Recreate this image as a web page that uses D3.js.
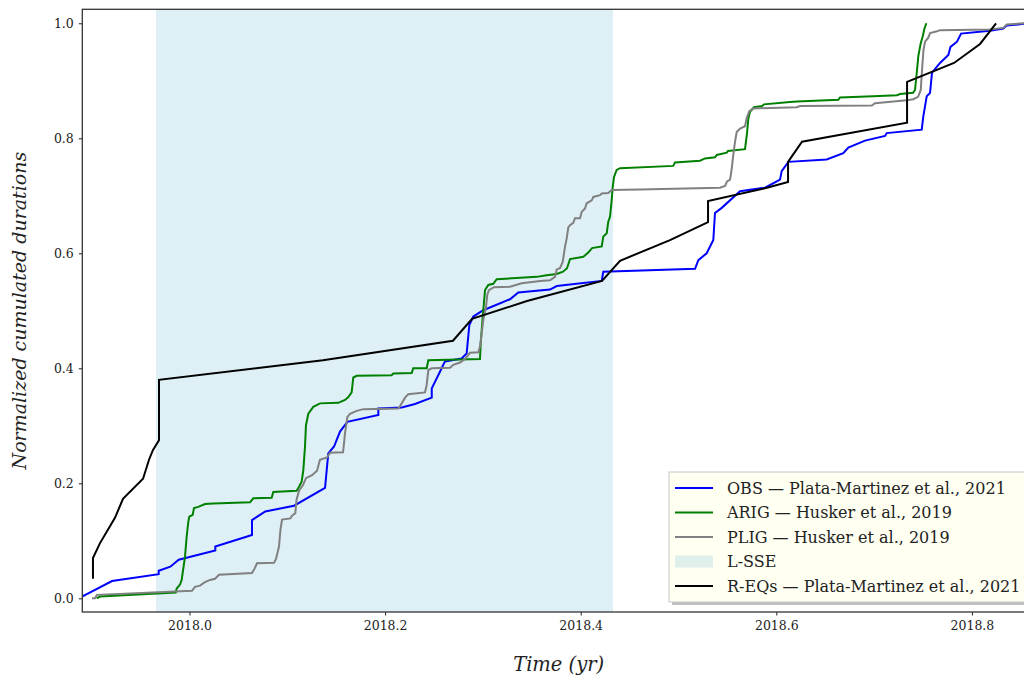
<!DOCTYPE html>
<html>
<head>
<meta charset="utf-8">
<script src="https://cdn.jsdelivr.net/npm/d3@7"></script>
<style>
  html, body { margin: 0; padding: 0; background: #ffffff; }
  svg { display: block; }
  .tick text { font-family: "DejaVu Serif", serif; font-size: 12.5px; fill: #222; }
</style>
</head>
<body>
<svg id="chart" width="1024" height="682"></svg>
<script>
// Cumulated tremor / slip durations, normalized to 1, against decimal year.
const obs = [
  [2017.8880,0.001],[2017.9208,0.030],[2017.9685,0.042],[2017.9685,0.048],[2017.9804,0.055],
  [2017.9890,0.067],[2018.0264,0.083],[2018.0264,0.090],[2018.0639,0.110],[2018.0639,0.136],
  [2018.0775,0.151],[2018.1069,0.161],[2018.1386,0.192],[2018.1419,0.252],[2018.1478,0.264],
  [2018.1539,0.290],[2018.1614,0.307],[2018.1931,0.319],[2018.1931,0.330],[2018.2170,0.332],
  [2018.2306,0.338],[2018.2477,0.349],[2018.2477,0.365],[2018.2561,0.394],[2018.2612,0.412],
  [2018.2783,0.417],[2018.2834,0.426],[2018.2861,0.475],[2018.2902,0.490],[2018.3004,0.501],
  [2018.3277,0.520],[2018.3362,0.532],[2018.3686,0.537],[2018.3755,0.543],[2018.4215,0.552],
  [2018.4231,0.568],[2018.5169,0.573],[2018.5203,0.588],[2018.5288,0.600],[2018.5356,0.623],
  [2018.5373,0.670],[2018.5442,0.679],[2018.5629,0.708],[2018.5885,0.714],[2018.6038,0.728],
  [2018.6055,0.743],[2018.6123,0.759],[2018.6515,0.763],[2018.6685,0.774],[2018.6736,0.784],
  [2018.6907,0.796],[2018.7112,0.804],[2018.7129,0.809],[2018.7487,0.815],[2018.7503,0.838],
  [2018.7538,0.873],[2018.7572,0.879],[2018.7592,0.914],[2018.7674,0.931],[2018.7759,0.945],
  [2018.7781,0.959],[2018.7848,0.968],[2018.7889,0.982],[2018.8185,0.987],[2018.8321,0.991],
  [2018.8356,0.996],[2018.8533,0.999],[2018.8697,1.000]
];

const arig = [
  [2017.9051,0.000],[2017.9085,0.003],[2017.9859,0.010],[2017.9869,0.017],[2017.9903,0.024],
  [2017.9920,0.032],[2017.9930,0.044],[2017.9954,0.072],[2017.9971,0.107],[2017.9988,0.133],
  [2017.9998,0.142],[2018.0033,0.145],[2018.0046,0.157],[2018.0090,0.159],[2018.0158,0.164],
  [2018.0243,0.165],[2018.0619,0.167],[2018.0652,0.174],[2018.0840,0.175],[2018.0857,0.185],
  [2018.1096,0.187],[2018.1120,0.194],[2018.1147,0.203],[2018.1164,0.223],[2018.1181,0.264],
  [2018.1191,0.301],[2018.1215,0.321],[2018.1266,0.333],[2018.1334,0.339],[2018.1521,0.340],
  [2018.1590,0.345],[2018.1624,0.350],[2018.1658,0.358],[2018.1675,0.384],[2018.1710,0.387],
  [2018.2067,0.388],[2018.2084,0.391],[2018.2272,0.392],[2018.2288,0.400],[2018.2425,0.400],
  [2018.2442,0.414],[2018.2970,0.416],[2018.2978,0.444],[2018.2998,0.490],[2018.3022,0.536],
  [2018.3055,0.545],[2018.3106,0.547],[2018.3141,0.555],[2018.3550,0.559],[2018.3652,0.562],
  [2018.3755,0.564],[2018.3819,0.568],[2018.3860,0.574],[2018.3891,0.590],[2018.4027,0.594],
  [2018.4075,0.601],[2018.4116,0.609],[2018.4215,0.612],[2018.4231,0.629],[2018.4266,0.635],
  [2018.4282,0.655],[2018.4300,0.664],[2018.4317,0.693],[2018.4327,0.715],[2018.4341,0.733],
  [2018.4368,0.745],[2018.4402,0.748],[2018.4947,0.752],[2018.4964,0.758],[2018.5220,0.761],
  [2018.5271,0.765],[2018.5373,0.767],[2018.5391,0.771],[2018.5493,0.775],[2018.5506,0.778],
  [2018.5680,0.781],[2018.5700,0.808],[2018.5714,0.834],[2018.5731,0.846],[2018.5772,0.854],
  [2018.5854,0.856],[2018.5874,0.859],[2018.6140,0.863],[2018.6212,0.864],[2018.6634,0.867],
  [2018.6651,0.871],[2018.6989,0.873],[2018.7234,0.875],[2018.7265,0.877],[2018.7398,0.879],
  [2018.7418,0.884],[2018.7436,0.914],[2018.7452,0.943],[2018.7475,0.964],[2018.7495,0.976],
  [2018.7515,0.991],[2018.7534,1.000]
];

const plig = [
  [2017.9003,0.000],[2017.9034,0.000],[2017.9054,0.006],[2018.0026,0.013],[2018.0056,0.020],
  [2018.0107,0.022],[2018.0158,0.028],[2018.0210,0.032],[2018.0261,0.034],[2018.0302,0.041],
  [2018.0639,0.044],[2018.0667,0.052],[2018.0690,0.061],[2018.0864,0.062],[2018.0884,0.068],
  [2018.0915,0.090],[2018.0930,0.119],[2018.0946,0.137],[2018.1031,0.139],[2018.1051,0.144],
  [2018.1082,0.148],[2018.1094,0.171],[2018.1120,0.187],[2018.1161,0.197],[2018.1191,0.209],
  [2018.1253,0.214],[2018.1304,0.222],[2018.1334,0.241],[2018.1406,0.245],[2018.1437,0.253],
  [2018.1570,0.254],[2018.1580,0.270],[2018.1590,0.287],[2018.1614,0.315],[2018.1641,0.321],
  [2018.1710,0.326],[2018.1777,0.329],[2018.2135,0.330],[2018.2152,0.334],[2018.2204,0.349],
  [2018.2237,0.355],[2018.2408,0.358],[2018.2425,0.371],[2018.2442,0.397],[2018.2477,0.400],
  [2018.2664,0.401],[2018.2697,0.406],[2018.2766,0.410],[2018.2817,0.416],[2018.2868,0.427],
  [2018.2953,0.428],[2018.2970,0.438],[2018.2988,0.461],[2018.3004,0.484],[2018.3032,0.507],
  [2018.3045,0.528],[2018.3062,0.536],[2018.3113,0.541],[2018.3277,0.542],[2018.3397,0.548],
  [2018.3584,0.552],[2018.3686,0.553],[2018.3737,0.559],[2018.3755,0.572],[2018.3788,0.574],
  [2018.3816,0.585],[2018.3840,0.612],[2018.3857,0.626],[2018.3873,0.645],[2018.3891,0.649],
  [2018.3924,0.653],[2018.3942,0.661],[2018.3993,0.661],[2018.4010,0.672],[2018.4044,0.678],
  [2018.4061,0.687],[2018.4113,0.692],[2018.4129,0.698],[2018.4197,0.701],[2018.4215,0.704],
  [2018.4282,0.705],[2018.4317,0.710],[2018.4606,0.711],[2018.5424,0.714],[2018.5476,0.717],
  [2018.5496,0.725],[2018.5527,0.728],[2018.5544,0.747],[2018.5560,0.771],[2018.5578,0.794],
  [2018.5595,0.811],[2018.5629,0.817],[2018.5680,0.821],[2018.5697,0.835],[2018.5724,0.847],
  [2018.5765,0.852],[2018.6209,0.854],[2018.6242,0.856],[2018.6976,0.857],[2018.7009,0.861],
  [2018.7333,0.866],[2018.7401,0.868],[2018.7449,0.872],[2018.7477,0.884],[2018.7490,0.919],
  [2018.7505,0.954],[2018.7521,0.968],[2018.7554,0.975],[2018.7572,0.983],[2018.7643,0.986],
  [2018.7674,0.988],[2018.8185,0.989],[2018.8321,0.992],[2018.8356,0.998],[2018.8533,1.000]
];

const reqs = [
  [2017.9013,0.034],[2017.9013,0.070],[2017.9085,0.096],[2017.9238,0.140],[2017.9320,0.173],
  [2017.9525,0.208],[2017.9586,0.241],[2017.9627,0.258],[2017.9688,0.275],[2017.9688,0.380],
  [2018.1365,0.414],[2018.2694,0.448],[2018.2889,0.486],[2018.3451,0.517],[2018.4218,0.552],
  [2018.4402,0.587],[2018.4913,0.623],[2018.5302,0.654],[2018.5302,0.691],[2018.5905,0.714],
  [2018.6120,0.724],[2018.6120,0.759],[2018.6263,0.794],[2018.7337,0.827],[2018.7337,0.898],
  [2018.7817,0.931],[2018.8083,0.964],[2018.8247,1.000]
];

// Long-term slow slip event window
const sseWindow = [2017.9657, 2018.4330];

const xTicks = [2018.0, 2018.2, 2018.4, 2018.6, 2018.8];
const yTicks = [0.0, 0.2, 0.4, 0.6, 0.8, 1.0];

const seriesNames = [
  "OBS \u2014 Plata-Martinez et al., 2021",
  "ARIG \u2014 Husker et al., 2019",
  "PLIG \u2014 Husker et al., 2019",
  "L-SSE",
  "R-EQs \u2014 Plata-Martinez et al., 2021"
];

const svg = d3.select("#chart");
const plot = { left: 82.3, right: 1035, top: 9.3, bottom: 612 };

const x = d3.scaleLinear().domain([2017.8904, 2018.8645]).range([plot.left, plot.right]);
const y = d3.scaleLinear().domain([-0.0238, 1.0243]).range([plot.bottom, plot.top]);

svg.append("defs").append("clipPath").attr("id", "plot-clip")
  .append("rect")
  .attr("x", plot.left).attr("y", plot.top)
  .attr("width", plot.right - plot.left).attr("height", plot.bottom - plot.top);

const body = svg.append("g").attr("clip-path", "url(#plot-clip)");

const sseFill = "rgb(222,239,245)";
body.append("rect")
  .attr("x", x(sseWindow[0])).attr("y", plot.top)
  .attr("width", x(sseWindow[1]) - x(sseWindow[0]))
  .attr("height", plot.bottom - plot.top)
  .attr("fill", sseFill);

const line = d3.line().x(d => x(d[0])).y(d => y(d[1]));

const series = [
  { data: obs,  color: "#0000ff" },
  { data: arig, color: "#008000" },
  { data: plig, color: "#808080" },
  { data: reqs, color: "#000000" }
];

series.forEach(s => {
  body.append("path")
    .datum(s.data)
    .attr("d", line)
    .attr("fill", "none")
    .attr("stroke", s.color)
    .attr("stroke-width", 2)
    .attr("stroke-linejoin", "miter");
});

// Axes
const xAxis = svg.append("g")
  .attr("transform", `translate(0,${plot.bottom})`)
  .call(d3.axisBottom(x).tickValues(xTicks).tickFormat(d3.format(".1f")).tickSize(3.5).tickPadding(6));
const yAxis = svg.append("g")
  .attr("transform", `translate(${plot.left},0)`)
  .call(d3.axisLeft(y).tickValues(yTicks).tickFormat(d3.format(".1f")).tickSize(3.5).tickPadding(5));
[xAxis, yAxis].forEach(a => {
  a.select(".domain").remove();
  a.selectAll(".tick line").attr("stroke", "#222").attr("stroke-width", 1);
});

// Frame
const spine = { stroke: "#333", width: 1.3 };
svg.append("rect")
  .attr("x", plot.left).attr("y", plot.top)
  .attr("width", plot.right - plot.left).attr("height", plot.bottom - plot.top)
  .attr("fill", "none").attr("stroke", spine.stroke).attr("stroke-width", spine.width);

// Axis titles
svg.append("text")
  .attr("x", (plot.left + plot.right) / 2).attr("y", 671)
  .attr("text-anchor", "middle")
  .style("font-family", "'DejaVu Serif', serif").style("font-style", "italic")
  .style("font-size", "19.5px").attr("fill", "#222")
  .text("Time (yr)");

svg.append("text")
  .attr("transform", `translate(26,${(plot.top + plot.bottom) / 2}) rotate(-90)`)
  .attr("text-anchor", "middle")
  .style("font-family", "'DejaVu Serif', serif").style("font-style", "italic")
  .style("font-size", "19px").attr("fill", "#222")
  .text("Normalized cumulated durations");

// Legend
const lg = { x: 669, y: 472, w: 362, h: 130, row0: 488, step: 24.5 };
const legend = svg.append("g");
legend.append("rect")
  .attr("x", lg.x + 3).attr("y", lg.y + 3).attr("width", lg.w).attr("height", lg.h)
  .attr("fill", "#8a8a8a").attr("opacity", 0.55);
legend.append("rect")
  .attr("x", lg.x).attr("y", lg.y).attr("width", lg.w).attr("height", lg.h)
  .attr("fill", "#fffff2").attr("stroke", "#c8c8c8").attr("stroke-width", 1);

const handles = [
  { type: "line", color: "#0000ff" },
  { type: "line", color: "#008000" },
  { type: "line", color: "#808080" },
  { type: "patch", color: "rgb(222,239,236)" },
  { type: "line", color: "#000000" }
];

handles.forEach((h, i) => {
  const cy = lg.row0 + i * lg.step;
  if (h.type === "line") {
    legend.append("line")
      .attr("x1", 675).attr("x2", 713).attr("y1", cy).attr("y2", cy)
      .attr("stroke", h.color).attr("stroke-width", 2);
  } else {
    legend.append("rect")
      .attr("x", 675).attr("y", cy - 6).attr("width", 38).attr("height", 12)
      .attr("fill", h.color);
  }
  legend.append("text")
    .attr("x", 727).attr("y", cy).attr("dy", "0.36em")
    .style("font-family", "'DejaVu Serif', serif").style("font-size", "16px")
    .attr("fill", "#222")
    .text(seriesNames[i]);
});
</script>
</body>
</html>
